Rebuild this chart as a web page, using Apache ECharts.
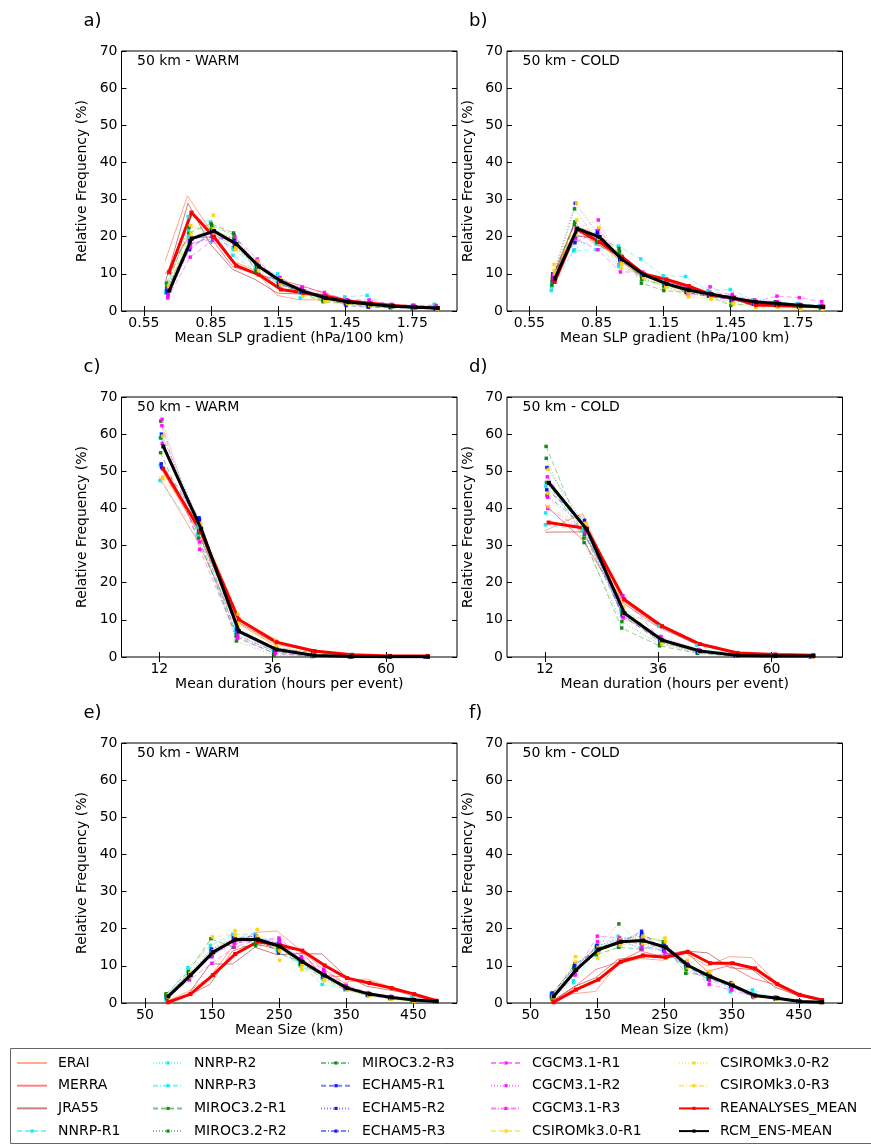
<!DOCTYPE html>
<html>
<head>
<meta charset="utf-8">
<script src="https://cdn.jsdelivr.net/npm/echarts@6.0.0/dist/echarts.min.js"></script>
<style>
  html, body { margin: 0; padding: 0; background: #fff; }
  #chart { width: 871px; height: 1145px; }
</style>
</head>
<body>
<div id="chart"></div>
<script>
const FONT = 'DejaVu Sans'

const reanNames = ['ERAI', 'MERRA', 'JRA55']
const memberNames = [
  'NNRP-R1', 'NNRP-R2', 'NNRP-R3',
  'MIROC3.2-R1', 'MIROC3.2-R2', 'MIROC3.2-R3',
  'ECHAM5-R1', 'ECHAM5-R2', 'ECHAM5-R3',
  'CGCM3.1-R1', 'CGCM3.1-R2', 'CGCM3.1-R3',
  'CSIROMk3.0-R1', 'CSIROMk3.0-R2', 'CSIROMk3.0-R3'
]

// bin centres and tick labels
const slpBins = [0.645, 0.745, 0.845, 0.945, 1.045, 1.145, 1.245, 1.345, 1.445, 1.545, 1.645, 1.745, 1.845]
const durBins = [12, 20, 28, 36, 44, 52, 60, 68]
const sizeBins = [80, 113.3, 146.7, 180, 213.3, 246.7, 280, 313.3, 346.7, 380, 413.3, 446.7, 480]
const slpTicks = [0.55, 0.85, 1.15, 1.45, 1.75]
const durTicks = [12, 36, 60]
const sizeTicks = [50, 150, 250, 350, 450]

// ---- a) SLP gradient, WARM
const slpWarmRean = [
  [13.4, 31.0, 22.0, 13.5, 11.0, 4.2, 3.0, 3.0, 3.0, 2.5, 1.8, 1.0, 0.8],
  [10.0, 19.5, 20.0, 12.0, 10.0, 8.5, 7.0, 5.0, 3.0, 2.0, 1.5, 1.2, 0.9],
  [8.0, 29.0, 18.0, 11.2, 8.5, 4.8, 4.6, 4.0, 2.2, 1.8, 1.2, 1.1, 0.7]
]
const slpWarmMembers = [
  [5.0, 25.4, 24.0, 15.0, 11.0, 10.0, 5.0, 4.0, 3.8, 4.2, 1.5, 0.8, 1.8],
  [5.5, 22.0, 18.5, 17.0, 11.5, 8.5, 3.5, 3.0, 2.0, 1.5, 1.2, 1.5, 0.9],
  [4.8, 20.0, 21.5, 16.5, 12.5, 9.0, 5.5, 3.2, 2.5, 1.5, 1.0, 1.0, 0.7],
  [7.5, 21.0, 23.5, 21.0, 10.5, 7.5, 5.0, 2.5, 2.0, 1.2, 1.0, 0.8, 0.6],
  [6.5, 22.5, 22.0, 19.5, 11.0, 7.0, 5.5, 3.0, 2.5, 1.8, 1.5, 1.2, 0.5],
  [6.0, 18.5, 23.0, 20.5, 12.5, 8.0, 5.0, 3.0, 2.0, 1.5, 1.0, 1.0, 0.8],
  [5.0, 16.5, 21.5, 18.5, 13.0, 7.0, 6.0, 4.0, 1.5, 1.0, 0.9, 0.8, 0.5],
  [5.5, 19.0, 21.0, 17.5, 12.0, 8.5, 5.5, 3.5, 2.5, 2.0, 1.5, 1.5, 0.9],
  [6.0, 18.0, 20.0, 19.0, 12.5, 7.5, 5.0, 3.5, 2.5, 1.8, 1.2, 1.0, 0.8],
  [3.5, 14.5, 19.0, 20.0, 14.0, 7.5, 6.5, 5.0, 3.0, 3.0, 1.8, 1.5, 1.5],
  [4.0, 17.0, 20.5, 18.5, 13.5, 8.0, 6.0, 4.5, 2.8, 2.0, 1.5, 1.2, 0.9],
  [4.5, 18.0, 19.5, 17.0, 12.5, 9.0, 5.5, 4.0, 3.0, 2.2, 1.3, 1.0, 1.0],
  [6.5, 23.0, 22.0, 16.5, 13.5, 7.5, 4.0, 2.5, 2.0, 1.5, 1.2, 0.8, 0.6],
  [6.0, 21.0, 25.8, 17.0, 12.0, 7.0, 4.5, 3.0, 2.0, 1.5, 1.3, 0.8, 0.7],
  [7.0, 20.0, 21.0, 17.5, 11.0, 8.5, 5.0, 3.0, 2.2, 1.6, 1.1, 0.9, 0.6]
]
const slpWarmReanMean = [10.4, 26.5, 20.0, 12.2, 9.8, 5.8, 4.9, 4.0, 2.7, 2.1, 1.5, 1.1, 0.8]
const slpWarmEnsMean = [5.5, 19.5, 21.5, 18.0, 12.0, 8.0, 5.3, 3.5, 2.4, 1.8, 1.3, 1.0, 0.8]

// ---- b) SLP gradient, COLD
const slpColdRean = [
  [7.0, 22.5, 18.0, 15.0, 10.5, 9.0, 7.0, 4.5, 4.0, 1.5, 1.2, 1.0, 1.0],
  [8.5, 20.5, 19.5, 14.0, 9.5, 8.5, 6.5, 4.0, 3.3, 1.8, 1.7, 1.6, 1.3],
  [8.0, 23.0, 18.3, 14.8, 9.7, 8.0, 6.6, 4.7, 3.5, 1.5, 1.6, 1.3, 1.3]
]
const slpColdMembers = [
  [5.5, 16.2, 16.5, 17.5, 14.0, 9.5, 9.3, 5.5, 5.8, 3.0, 2.5, 2.0, 1.5],
  [6.5, 18.5, 18.0, 12.0, 10.0, 8.0, 6.0, 5.0, 4.0, 2.5, 2.0, 1.5, 1.0],
  [7.5, 16.5, 20.0, 12.5, 9.5, 7.0, 5.5, 4.5, 3.0, 2.0, 2.5, 1.8, 1.0],
  [7.0, 23.2, 20.5, 16.8, 7.5, 5.5, 5.0, 4.0, 1.5, 2.0, 2.5, 1.5, 1.2],
  [8.0, 27.5, 19.0, 15.0, 9.0, 6.5, 5.0, 4.0, 2.5, 2.0, 1.5, 1.3, 0.8],
  [9.0, 24.0, 18.5, 16.0, 8.5, 7.0, 5.5, 4.5, 3.5, 2.5, 1.8, 1.2, 1.0],
  [10.0, 18.4, 21.4, 14.0, 10.0, 7.5, 6.0, 4.0, 3.0, 2.0, 1.5, 1.0, 1.0],
  [9.5, 29.0, 21.0, 13.5, 10.0, 7.0, 5.5, 4.5, 3.5, 2.5, 2.0, 1.5, 1.2],
  [8.5, 20.0, 20.0, 14.5, 9.5, 7.5, 5.0, 4.0, 3.5, 2.0, 1.5, 1.5, 0.8],
  [9.5, 19.4, 16.5, 10.5, 10.5, 7.0, 6.5, 5.0, 4.5, 2.5, 4.0, 3.6, 2.5],
  [8.5, 22.0, 24.5, 13.0, 10.0, 8.0, 5.0, 6.5, 4.0, 3.0, 2.5, 1.5, 1.5],
  [9.0, 21.5, 22.0, 14.0, 9.5, 7.5, 4.5, 4.0, 3.0, 2.5, 2.0, 1.8, 1.2],
  [12.5, 20.5, 19.5, 11.5, 9.5, 7.0, 5.0, 4.0, 3.5, 2.0, 1.5, 1.0, 0.5],
  [11.0, 29.0, 22.5, 13.0, 9.0, 6.5, 4.0, 3.5, 2.0, 1.5, 1.5, 1.0, 0.8],
  [10.0, 24.5, 19.0, 12.5, 9.0, 6.5, 3.8, 3.2, 2.0, 1.0, 1.0, 0.5, 0.5]
]
const slpColdReanMean = [7.8, 22.0, 18.6, 14.6, 9.9, 8.5, 6.7, 4.4, 3.6, 1.6, 1.5, 1.3, 1.2]
const slpColdEnsMean = [8.7, 22.2, 19.9, 13.9, 9.7, 7.3, 5.6, 4.5, 3.4, 2.4, 2.0, 1.5, 1.1]

// ---- c) duration, WARM
const durWarmRean = [
  [48.5, 31.5, 9.5, 3.5, 1.8, 0.7, 0.3, 0.3],
  [51.5, 34.0, 11.0, 4.5, 1.5, 0.6, 0.3, 0.3],
  [52.0, 35.5, 9.8, 4.0, 1.5, 0.5, 0.3, 0.3]
]
const durWarmMembers = [
  [47.5, 33.0, 7.0, 2.0, 0.5, 0.2, 0.1, 0.0],
  [59.0, 35.0, 6.5, 1.5, 0.3, 0.1, 0.1, 0.0],
  [51.5, 36.0, 8.0, 2.5, 0.6, 0.2, 0.1, 0.1],
  [55.0, 32.0, 5.5, 1.0, 0.2, 0.1, 0.0, 0.0],
  [63.5, 33.5, 4.3, 0.5, 0.1, 0.0, 0.0, 0.0],
  [59.0, 34.0, 6.0, 1.5, 0.3, 0.1, 0.0, 0.0],
  [52.0, 37.5, 7.5, 2.0, 0.5, 0.2, 0.1, 0.0],
  [60.0, 36.5, 7.0, 1.5, 0.4, 0.1, 0.1, 0.0],
  [51.0, 37.0, 7.5, 2.5, 1.2, 0.3, 0.1, 0.0],
  [62.3, 29.0, 5.0, 1.0, 0.2, 0.1, 0.0, 0.0],
  [64.0, 31.0, 5.5, 1.5, 0.3, 0.1, 0.0, 0.0],
  [57.5, 34.0, 6.5, 2.0, 0.5, 0.2, 0.1, 0.0],
  [48.0, 36.0, 11.5, 4.5, 1.0, 0.3, 0.1, 0.1],
  [59.5, 34.5, 8.0, 2.5, 0.6, 0.2, 0.1, 0.0],
  [48.5, 35.5, 9.0, 3.0, 0.8, 0.3, 0.1, 0.1]
]
const durWarmReanMean = [50.7, 33.7, 10.1, 4.0, 1.6, 0.6, 0.3, 0.3]
const durWarmEnsMean = [56.7, 34.5, 6.9, 2.0, 0.4, 0.15, 0.1, 0.05]

// ---- d) duration, COLD
const durColdRean = [
  [34.0, 38.6, 16.0, 8.5, 3.5, 1.2, 0.8, 0.5],
  [41.0, 31.5, 15.0, 8.0, 3.5, 1.0, 0.7, 0.5],
  [33.6, 33.7, 15.5, 8.4, 3.5, 1.1, 0.6, 0.5]
]
const durColdMembers = [
  [35.6, 34.0, 12.5, 8.3, 3.2, 0.5, 0.2, 0.1],
  [38.8, 34.5, 13.0, 5.5, 1.5, 0.4, 0.2, 0.1],
  [46.0, 35.0, 12.0, 5.0, 1.5, 0.3, 0.2, 0.1],
  [56.7, 32.0, 7.8, 3.0, 1.0, 0.2, 0.1, 0.1],
  [53.5, 30.8, 9.5, 3.5, 1.2, 0.3, 0.2, 0.1],
  [47.0, 33.0, 11.5, 4.0, 1.5, 0.4, 0.2, 0.1],
  [45.0, 36.8, 11.0, 4.5, 1.5, 0.4, 0.2, 0.1],
  [51.0, 35.5, 12.5, 4.0, 1.2, 0.3, 0.2, 0.1],
  [43.5, 35.0, 12.0, 5.0, 1.8, 0.4, 0.2, 0.1],
  [48.5, 34.5, 16.5, 4.5, 1.8, 0.5, 0.2, 0.1],
  [43.0, 33.5, 10.5, 5.5, 2.0, 0.5, 0.2, 0.1],
  [40.0, 34.0, 11.0, 4.5, 1.6, 0.4, 0.2, 0.1],
  [44.0, 36.0, 13.5, 4.0, 1.3, 0.3, 0.2, 0.1],
  [50.5, 35.5, 12.0, 4.5, 1.5, 0.4, 0.2, 0.1],
  [40.5, 34.5, 11.5, 3.5, 1.3, 0.3, 0.2, 0.1]
]
const durColdReanMean = [36.2, 34.6, 15.5, 8.3, 3.5, 1.1, 0.7, 0.5]
const durColdEnsMean = [46.9, 34.4, 11.8, 4.5, 1.6, 0.4, 0.3, 0.3]

// ---- e) size, WARM
const sizeWarmRean = [
  [0.3, 3.0, 7.0, 15.0, 19.0, 19.4, 14.5, 9.5, 5.5, 6.5, 4.5, 2.8, 0.7],
  [0.2, 2.0, 5.0, 14.0, 16.0, 14.5, 14.5, 7.5, 7.0, 5.2, 4.0, 2.0, 0.6],
  [0.2, 2.2, 10.5, 10.5, 15.0, 13.0, 13.3, 13.2, 7.5, 4.5, 3.5, 2.5, 0.5]
]
const sizeWarmMembers = [
  [1.5, 9.5, 15.5, 18.5, 18.5, 14.0, 10.5, 5.0, 4.0, 2.2, 1.5, 1.5, 0.4],
  [1.0, 8.5, 14.5, 18.0, 17.5, 15.0, 11.0, 6.5, 4.0, 2.5, 1.5, 0.8, 0.3],
  [2.0, 7.5, 13.0, 17.0, 18.0, 16.0, 10.0, 7.0, 3.5, 2.0, 1.2, 0.6, 0.3],
  [2.5, 8.5, 17.3, 15.0, 15.5, 15.5, 10.5, 7.5, 4.5, 2.5, 1.5, 0.7, 0.4],
  [2.0, 8.0, 14.0, 17.5, 16.0, 15.0, 11.5, 7.0, 4.0, 2.0, 1.2, 0.5, 0.3],
  [2.2, 7.0, 13.5, 16.5, 16.5, 14.5, 12.0, 8.0, 4.5, 2.5, 1.5, 0.8, 0.5],
  [1.5, 8.0, 12.5, 17.5, 18.0, 13.5, 11.0, 7.5, 3.8, 2.2, 1.4, 0.7, 0.3],
  [1.8, 7.0, 14.5, 17.0, 17.0, 15.5, 10.5, 7.0, 4.0, 2.5, 1.5, 0.8, 0.4],
  [1.2, 6.5, 13.0, 16.5, 17.5, 16.0, 11.5, 8.0, 4.2, 2.6, 1.6, 0.9, 0.4],
  [1.5, 6.2, 10.7, 15.0, 17.0, 17.5, 12.5, 9.0, 4.8, 2.8, 1.8, 1.0, 0.5],
  [1.8, 7.0, 12.5, 17.0, 16.5, 16.5, 12.0, 8.5, 4.5, 2.5, 1.6, 0.9, 0.4],
  [2.0, 7.5, 13.0, 16.0, 17.0, 17.0, 11.5, 8.0, 4.0, 2.4, 1.5, 0.8, 0.5],
  [2.0, 8.0, 17.8, 18.5, 18.0, 14.0, 9.0, 6.0, 3.5, 2.0, 1.0, 0.4, 0.2],
  [1.5, 7.0, 14.0, 19.5, 19.8, 11.5, 10.0, 6.5, 3.5, 2.2, 1.2, 0.6, 0.3],
  [2.2, 8.0, 13.5, 18.0, 16.5, 15.0, 10.5, 7.0, 3.8, 2.4, 1.3, 0.7, 0.3]
]
const sizeWarmReanMean = [0.2, 2.4, 7.5, 13.2, 16.5, 15.6, 14.1, 10.1, 6.7, 5.4, 4.0, 2.4, 0.6]
const sizeWarmEnsMean = [1.8, 7.5, 13.7, 17.1, 17.1, 15.2, 11.1, 7.4, 4.0, 2.4, 1.5, 0.8, 0.4]

// ---- f) size, COLD
const sizeColdRean = [
  [0.2, 2.5, 3.1, 10.5, 12.0, 11.5, 13.5, 10.0, 12.5, 12.2, 6.0, 2.5, 0.8],
  [0.2, 4.0, 9.0, 11.0, 14.0, 12.5, 14.0, 8.5, 10.1, 6.7, 5.0, 2.0, 0.8],
  [0.2, 4.3, 6.8, 11.8, 12.4, 13.0, 14.0, 13.5, 9.5, 9.0, 4.3, 2.1, 0.8]
]
const sizeColdMembers = [
  [2.5, 6.0, 14.0, 18.0, 16.5, 15.5, 10.5, 7.5, 4.0, 3.5, 1.5, 0.4, 0.2],
  [1.5, 5.5, 13.0, 15.0, 17.5, 16.5, 11.0, 6.5, 3.0, 2.0, 1.0, 0.5, 0.2],
  [2.0, 8.0, 15.5, 16.5, 15.0, 14.0, 9.5, 7.0, 5.0, 2.5, 1.2, 0.4, 0.2],
  [1.5, 9.5, 13.0, 15.0, 14.5, 16.0, 8.0, 7.5, 5.0, 1.8, 1.5, 0.4, 0.2],
  [2.0, 10.0, 15.0, 21.3, 16.0, 15.0, 10.0, 8.0, 4.5, 2.0, 1.0, 0.3, 0.1],
  [1.0, 9.0, 13.5, 17.0, 18.0, 16.5, 9.0, 6.5, 5.5, 2.0, 1.2, 0.5, 0.2],
  [2.7, 9.5, 15.0, 16.0, 19.3, 14.0, 10.0, 6.5, 4.5, 1.5, 1.5, 0.4, 0.2],
  [1.8, 8.5, 15.5, 17.0, 18.5, 14.5, 11.0, 7.0, 5.0, 2.2, 1.3, 0.5, 0.2],
  [2.2, 10.5, 14.0, 16.5, 17.0, 15.5, 10.5, 7.5, 5.2, 2.0, 1.4, 0.3, 0.2],
  [1.5, 8.0, 18.0, 17.5, 15.5, 14.0, 10.5, 5.0, 3.5, 1.8, 1.2, 0.4, 0.3],
  [1.2, 7.5, 16.5, 17.0, 14.5, 15.0, 11.0, 6.0, 4.0, 2.0, 1.5, 0.6, 0.2],
  [2.0, 9.0, 14.0, 16.0, 17.5, 13.5, 10.0, 7.5, 5.0, 2.2, 1.4, 0.4, 0.2],
  [1.5, 12.5, 12.0, 15.5, 17.0, 17.5, 11.5, 7.5, 5.0, 1.5, 1.0, 0.3, 0.1],
  [2.0, 11.0, 15.0, 17.0, 16.0, 15.0, 9.5, 8.5, 4.5, 2.0, 1.5, 0.4, 0.2],
  [1.8, 9.0, 13.5, 16.5, 18.0, 16.5, 10.0, 7.0, 5.2, 2.2, 1.3, 0.5, 0.2]
]
const sizeColdReanMean = [0.2, 3.6, 6.3, 11.1, 12.8, 12.3, 13.8, 10.7, 10.7, 9.3, 5.1, 2.2, 0.8]
const sizeColdEnsMean = [1.8, 8.9, 14.4, 16.5, 16.8, 15.0, 10.1, 7.1, 4.7, 2.0, 1.3, 0.4, 0.2]

// ---- styles
const reanColors = ['rgba(255,69,0,0.45)', 'rgba(255,0,0,0.5)', 'rgba(165,42,42,0.6)']
const memberColors = [
  '#00e5ee', '#00e5ee', '#00e5ee',
  '#008000', '#008000', '#008000',
  '#0000ff', '#0000ff', '#0000ff',
  '#ff00ff', '#ff00ff', '#ff00ff',
  '#ffd000', '#ffd000', '#ffd000'
]
const dashTypes = [[5, 3], [1, 2], [5, 2, 1, 2]]

const GRID_W = 335.5
const GRID_H = 260
const panels = [
  { label: 'a)', title: '50 km - WARM', left: 121.5, top: 51, bins: slpBins, jitter: 0.001, min: 0.45, max: 1.95, ticks: slpTicks,
    xName: 'Mean SLP gradient (hPa/100 km)', rean: slpWarmRean, members: slpWarmMembers, reanMean: slpWarmReanMean, ensMean: slpWarmEnsMean },
  { label: 'b)', title: '50 km - COLD', left: 507, top: 51, bins: slpBins, jitter: 0.001, min: 0.45, max: 1.95, ticks: slpTicks,
    xName: 'Mean SLP gradient (hPa/100 km)', rean: slpColdRean, members: slpColdMembers, reanMean: slpColdReanMean, ensMean: slpColdEnsMean },
  { label: 'c)', title: '50 km - WARM', left: 121.5, top: 397, bins: durBins, jitter: 0.045, min: 4, max: 75, ticks: durTicks,
    xName: 'Mean duration (hours per event)', rean: durWarmRean, members: durWarmMembers, reanMean: durWarmReanMean, ensMean: durWarmEnsMean },
  { label: 'd)', title: '50 km - COLD', left: 507, top: 397, bins: durBins, jitter: 0.045, min: 4, max: 75, ticks: durTicks,
    xName: 'Mean duration (hours per event)', rean: durColdRean, members: durColdMembers, reanMean: durColdReanMean, ensMean: durColdEnsMean },
  { label: 'e)', title: '50 km - WARM', left: 121.5, top: 743, bins: sizeBins, jitter: 0.25, min: 15, max: 515, ticks: sizeTicks,
    xName: 'Mean Size (km)', rean: sizeWarmRean, members: sizeWarmMembers, reanMean: sizeWarmReanMean, ensMean: sizeWarmEnsMean },
  { label: 'f)', title: '50 km - COLD', left: 507, top: 743, bins: sizeBins, jitter: 0.25, min: 15, max: 515, ticks: sizeTicks,
    xName: 'Mean Size (km)', rean: sizeColdRean, members: sizeColdMembers, reanMean: sizeColdReanMean, ensMean: sizeColdEnsMean }
]

const grid = []
const xAxis = []
const yAxis = []
const series = []
const graphic = []

const tickStyle = { show: true, inside: true, length: 5, lineStyle: { color: '#000', width: 1 } }

panels.forEach((p, g) => {
  grid.push({ left: p.left, top: p.top, width: GRID_W, height: GRID_H, show: true,
    borderColor: '#000', borderWidth: 1, backgroundColor: 'transparent' })

  xAxis.push({
    gridIndex: g, type: 'value', position: 'bottom', min: p.min, max: p.max,
    name: p.xName, nameLocation: 'middle', nameGap: 20,
    nameTextStyle: { fontFamily: FONT, fontSize: 14, color: '#000' },
    axisLine: { show: false }, splitLine: { show: false },
    axisTick: Object.assign({ customValues: p.ticks }, tickStyle),
    axisLabel: { customValues: p.ticks, fontFamily: FONT, fontSize: 14, color: '#000', margin: 5 }
  })
  xAxis.push({
    gridIndex: g, type: 'value', position: 'top', min: p.min, max: p.max,
    axisLine: { show: false }, splitLine: { show: false },
    axisTick: Object.assign({ customValues: p.ticks }, tickStyle),
    axisLabel: { show: false }
  })
  yAxis.push({
    gridIndex: g, type: 'value', position: 'left', min: 0, max: 70, interval: 10,
    name: 'Relative Frequency (%)', nameLocation: 'middle', nameGap: 32,
    nameTextStyle: { fontFamily: FONT, fontSize: 14, color: '#000' },
    axisLine: { show: false }, splitLine: { show: false },
    axisTick: tickStyle,
    axisLabel: { fontFamily: FONT, fontSize: 14, color: '#000', margin: 4 }
  })
  yAxis.push({
    gridIndex: g, type: 'value', position: 'right', min: 0, max: 70, interval: 10,
    axisLine: { show: false }, splitLine: { show: false },
    axisTick: tickStyle, axisLabel: { show: false }
  })

  const xi = 2 * g
  const pts = (vals, k) => p.bins.map((b, i) => [b + k * p.jitter, vals[i]])

  p.rean.forEach((vals, k) => {
    series.push({
      name: reanNames[k], type: 'line', xAxisIndex: xi, yAxisIndex: xi,
      data: pts(vals, k), symbol: 'none', silent: true,
      lineStyle: { color: reanColors[k], width: 1 },
      itemStyle: { color: reanColors[k] }
    })
  })
  p.members.forEach((vals, m) => {
    const c = memberColors[m]
    series.push({
      name: memberNames[m], type: 'line', xAxisIndex: xi, yAxisIndex: xi,
      data: pts(vals, m + 3), symbol: 'rect', symbolSize: 3.5, silent: true,
      lineStyle: { color: c, width: 0.8, type: dashTypes[m % 3], opacity: 0.5 },
      itemStyle: { color: c, opacity: 0.9 }
    })
  })
  series.push({
    name: 'REANALYSES_MEAN', type: 'line', xAxisIndex: xi, yAxisIndex: xi,
    data: pts(p.reanMean, 18), symbol: 'rect', symbolSize: 4, silent: true,
    lineStyle: { color: '#ff0000', width: 3 }, itemStyle: { color: '#ff0000' }, z: 3
  })
  series.push({
    name: 'RCM_ENS-MEAN', type: 'line', xAxisIndex: xi, yAxisIndex: xi,
    data: pts(p.ensMean, 19), symbol: 'rect', symbolSize: 4, silent: true,
    lineStyle: { color: '#000', width: 3 }, itemStyle: { color: '#000' }, z: 4
  })

  graphic.push({ type: 'text', left: p.left - 38, top: p.top - 39,
    style: { text: p.label, font: '18px "DejaVu Sans"', fill: '#000' } })
  graphic.push({ type: 'text', left: p.left + 15.5, top: p.top + 3,
    style: { text: p.title, font: '14px "DejaVu Sans"', fill: '#000' } })
})

// legend box, cut off on the right like the original figure
graphic.push({ type: 'rect', shape: { x: 10.5, y: 1048.5, width: 900, height: 95 },
  style: { fill: 'none', stroke: '#666', lineWidth: 1 }, z: -1 })

const legendCols = [
  ['ERAI', 'MERRA', 'JRA55', 'NNRP-R1'],
  ['NNRP-R2', 'NNRP-R3', 'MIROC3.2-R1', 'MIROC3.2-R2'],
  ['MIROC3.2-R3', 'ECHAM5-R1', 'ECHAM5-R2', 'ECHAM5-R3'],
  ['CGCM3.1-R1', 'CGCM3.1-R2', 'CGCM3.1-R3', 'CSIROMk3.0-R1'],
  ['CSIROMk3.0-R2', 'CSIROMk3.0-R3', 'REANALYSES_MEAN', 'RCM_ENS-MEAN']
]
const legendX = [16, 152, 320, 490, 678]
const legend = legendCols.map((names, c) => ({
  // plain lines (no marker) for the three reanalyses
  data: names.map(n => reanNames.includes(n)
    ? { name: n, itemStyle: { color: 'rgba(0,0,0,0)', borderWidth: 0 } }
    : { name: n }),
  orient: 'vertical', left: legendX[c], top: 1056,
  itemWidth: 30, itemHeight: 4, itemGap: 8.7, selectedMode: false, padding: 0,
  textStyle: { fontFamily: FONT, fontSize: 14, color: '#000', padding: [0, 0, 0, 6] }
}))

const chart = echarts.init(document.getElementById('chart'), null, { renderer: 'canvas' })
chart.setOption({
  animation: false,
  backgroundColor: '#fff',
  textStyle: { fontFamily: FONT },
  grid, xAxis, yAxis, series, legend, graphic
})
</script>
</body>
</html>
